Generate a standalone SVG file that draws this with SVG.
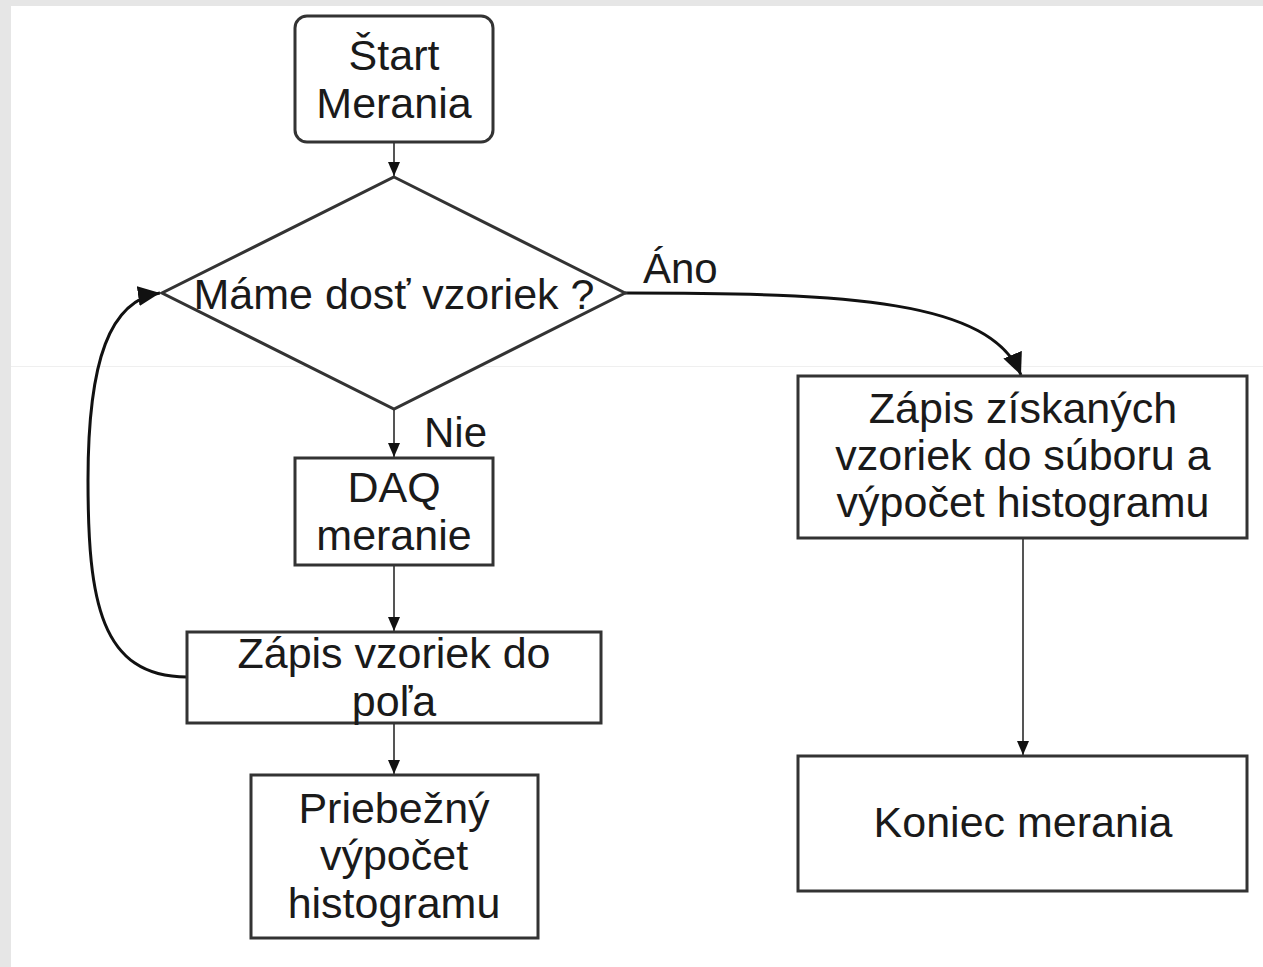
<svg xmlns="http://www.w3.org/2000/svg" width="1263" height="967" viewBox="0 0 1263 967">
<style>
.box{fill:#fff;stroke:#333;stroke-width:3}
.t{font-family:"Liberation Sans",Arial,sans-serif;font-size:43px;fill:#1a1a1a;text-anchor:middle}
.lbl{font-family:"Liberation Sans",Arial,sans-serif;font-size:42px;fill:#1a1a1a}
.thin{fill:none;stroke:#555;stroke-width:2}
.thick{fill:none;stroke:#111;stroke-width:3}
</style>
<defs>
<marker id="a" markerUnits="userSpaceOnUse" markerWidth="14" markerHeight="12" refX="14" refY="6" orient="auto"><path d="M0,0 L14,6 L0,12 z" fill="#111"/></marker>
<marker id="b" markerUnits="userSpaceOnUse" markerWidth="22" markerHeight="20" refX="22" refY="10" orient="auto"><path d="M0,0 L22,10 L0,20 z" fill="#111"/></marker>
</defs>
<rect x="0" y="0" width="1263" height="967" fill="#e6e6e6"/>
<rect x="11" y="6" width="1252" height="961" fill="#fff"/>
<line x1="11" y1="366.5" x2="1263" y2="366.5" stroke="#efefef" stroke-width="1"/>
<g id="connectors">
<path class="thin" d="M394,143 L394,176" marker-end="url(#a)"/>
<path class="thin" d="M394,409 L394,457" marker-end="url(#a)"/>
<path class="thin" d="M394,565 L394,631" marker-end="url(#a)"/>
<path class="thin" d="M394,723 L394,774" marker-end="url(#a)"/>
<path class="thin" d="M1023,538 L1023,755" marker-end="url(#a)"/>
<path class="thick" d="M625,293 C850,293 990,300 1021,375" marker-end="url(#b)"/>
<path class="thick" d="M187,677 C100,677 88,600 88,480 C88,360 110,300 160,293" marker-end="url(#b)"/>
<text class="lbl" x="643" y="283">Áno</text>
<text class="lbl" x="424" y="447">Nie</text>
</g>
<g id="start">
<rect class="box" x="295" y="16" width="198" height="126" rx="12"/>
<text class="t" x="394" y="70">Štart</text>
<text class="t" x="394" y="118">Merania</text>
</g>
<g id="decision">
<polygon class="box" points="394,177 625,293 394,409 162,293"/>
<text class="t" x="394" y="309">Máme dosť vzoriek ?</text>
</g>
<g id="daq">
<rect class="box" x="295" y="458" width="198" height="107"/>
<text class="t" x="394" y="502">DAQ</text>
<text class="t" x="394" y="550">meranie</text>
</g>
<g id="zapis-pola">
<rect class="box" x="187" y="632" width="414" height="91"/>
<text class="t" x="394" y="668">Zápis vzoriek do</text>
<text class="t" x="394" y="716">poľa</text>
</g>
<g id="priebezny">
<rect class="box" x="251" y="775" width="287" height="163"/>
<text class="t" x="394" y="823">Priebežný</text>
<text class="t" x="394" y="870">výpočet</text>
<text class="t" x="394" y="918">histogramu</text>
</g>
<g id="zapis-suboru">
<rect class="box" x="798" y="376" width="449" height="162"/>
<text class="t" x="1023" y="423">Zápis získaných</text>
<text class="t" x="1023" y="470">vzoriek do súboru a</text>
<text class="t" x="1023" y="517">výpočet histogramu</text>
</g>
<g id="koniec">
<rect class="box" x="798" y="756" width="449" height="135"/>
<text class="t" x="1023" y="837">Koniec merania</text>
</g>
</svg>
